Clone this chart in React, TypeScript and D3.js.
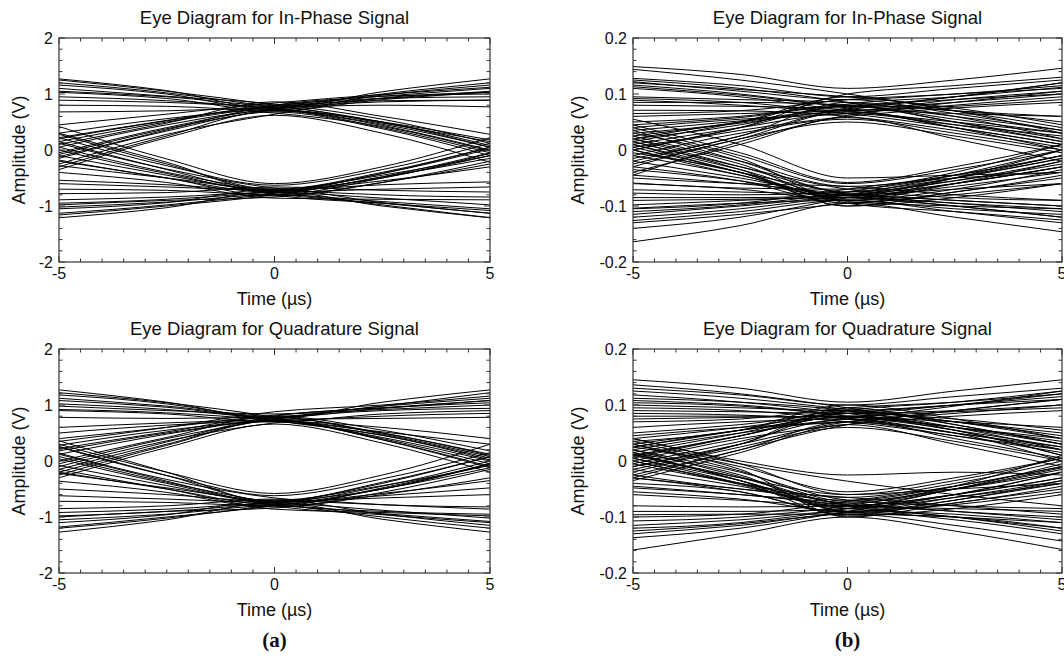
import React from 'react';
import * as d3 from 'd3';

// Sample instants (µs) at which each eye trace is recorded
const sampleTimes = [-5, -2.5, 0, 2.5, 5];
const xTickValues = [-5, 0, 5];
const yTicksLow = [-2, -1, 0, 1, 2];
const yTicksHigh = [-0.2, -0.1, 0, 0.1, 0.2];

// (a) in-phase traces, one row per symbol window
const inPhaseA: number[][] = [
  [1.27, 1.06, 0.74, 1.04, 1.27],
  [1.25, 1.05, 0.8, 0.5, 0.05],
  [1.16, 1.0, 0.72, 0.98, 1.16],
  [1.1, 0.96, 0.82, 0.55, 0.12],
  [1.03, 0.92, 0.7, 0.9, 1.03],
  [0.89, 0.85, 0.78, 0.86, 0.89],
  [0.8, 0.78, 0.66, 0.42, -0.02],
  [0.68, 0.7, 0.76, 0.8, 0.77],
  [0.45, 0.64, 0.84, 0.99, 1.12],
  [0.3, 0.56, 0.72, 0.5, 0.18],
  [0.15, 0.5, 0.78, 0.96, 1.0],
  [0.05, 0.45, 0.7, 0.46, 0.05],
  [-0.05, 0.4, 0.75, 0.88, 0.89],
  [-0.15, 0.34, 0.68, 0.38, -0.1],
  [-0.25, 0.28, 0.64, 0.93, 1.03],
  [-0.35, 0.22, 0.62, 0.3, -0.22],
  [0.1, 0.48, 0.86, 0.6, 0.28],
  [-0.08, 0.38, 0.73, 1.0, 1.2],
  [1.2, 1.02, 0.76, 0.44, 0.0],
  [0.22, 0.53, 0.8, 0.92, 0.95],
  [1.05, 0.95, 0.8, 0.92, 1.05],
  [-0.3, 0.25, 0.7, 0.4, -0.05],
  [0.2, 0.52, 0.76, 0.48, 0.15],
  [0.95, 0.88, 0.74, 0.5, 0.08],
  [-0.12, 0.36, 0.8, 0.96, 1.1],
  [-1.21, -1.03, -0.74, -1.0, -1.21],
  [-1.16, -1.0, -0.8, -0.48, -0.05],
  [-1.05, -0.94, -0.7, -0.94, -1.13],
  [-0.98, -0.9, -0.84, -0.58, -0.2],
  [-0.89, -0.84, -0.76, -0.86, -0.98],
  [-0.78, -0.76, -0.66, -0.72, -0.75],
  [-0.7, -0.72, -0.8, -0.5, -0.1],
  [-0.54, -0.62, -0.72, -0.62, -0.57],
  [-0.4, -0.58, -0.86, -0.88, -0.89],
  [-0.28, -0.5, -0.7, -0.45, -0.1],
  [-0.1, -0.45, -0.78, -0.95, -1.13],
  [0.0, -0.42, -0.73, -0.42, 0.02],
  [0.12, -0.34, -0.68, -0.8, -0.84],
  [0.22, -0.28, -0.63, -0.35, 0.12],
  [0.3, -0.22, -0.75, -0.7, -0.66],
  [0.42, -0.16, -0.6, -0.3, 0.22],
  [-0.2, -0.5, -0.82, -0.58, -0.25],
  [0.05, -0.4, -0.74, -0.98, -1.21],
  [-1.13, -0.98, -0.77, -0.42, 0.05],
  [-0.6, -0.66, -0.72, -0.55, -0.3],
  [-1.02, -0.93, -0.8, -0.92, -1.05],
  [0.28, -0.25, -0.7, -0.4, 0.05],
  [-0.18, -0.5, -0.76, -0.48, -0.15],
  [-0.95, -0.88, -0.74, -0.5, -0.06],
  [0.15, -0.35, -0.8, -0.95, -1.08],
];

// (a) quadrature traces
const quadratureA: number[][] = [
  [1.27, 1.05, 0.76, 1.05, 1.27],
  [1.18, 1.02, 0.72, 0.46, 0.02],
  [1.12, 0.98, 0.8, 0.98, 1.12],
  [1.02, 0.92, 0.74, 0.5, 0.1],
  [0.98, 0.9, 0.84, 0.92, 1.0],
  [0.9, 0.84, 0.7, 0.84, 0.9],
  [0.78, 0.76, 0.78, 0.48, 0.08],
  [0.6, 0.68, 0.74, 0.76, 0.78],
  [0.4, 0.6, 0.82, 0.95, 1.04],
  [0.28, 0.55, 0.7, 0.42, 0.0],
  [0.12, 0.48, 0.76, 0.9, 0.94],
  [0.0, 0.42, 0.8, 0.55, 0.18],
  [-0.1, 0.36, 0.68, 0.8, 0.85],
  [-0.2, 0.3, 0.73, 0.4, -0.05],
  [-0.3, 0.24, 0.66, 0.32, -0.2],
  [0.35, 0.6, 0.88, 1.0, 1.16],
  [0.18, 0.5, 0.72, 0.52, 0.3],
  [-0.05, 0.4, 0.75, 0.98, 1.22],
  [1.22, 1.04, 0.78, 0.38, -0.12],
  [0.5, 0.64, 0.71, 0.6, 0.4],
  [1.08, 0.96, 0.78, 0.94, 1.08],
  [-0.25, 0.28, 0.72, 0.38, -0.1],
  [0.22, 0.52, 0.78, 0.5, 0.12],
  [0.92, 0.86, 0.72, 0.46, 0.05],
  [-0.15, 0.34, 0.8, 0.95, 1.08],
  [-1.27, -1.05, -0.74, -1.04, -1.27],
  [-1.18, -1.0, -0.8, -0.5, -0.06],
  [-1.1, -0.96, -0.7, -0.95, -1.15],
  [-1.0, -0.9, -0.84, -0.56, -0.15],
  [-0.92, -0.86, -0.76, -0.88, -1.02],
  [-0.85, -0.8, -0.68, -0.78, -0.86],
  [-0.72, -0.74, -0.8, -0.48, -0.05],
  [-0.5, -0.6, -0.72, -0.66, -0.6],
  [-0.36, -0.56, -0.86, -0.92, -0.98],
  [-0.22, -0.48, -0.7, -0.44, -0.08],
  [-0.08, -0.44, -0.78, -0.9, -0.95],
  [0.04, -0.4, -0.73, -0.45, 0.0],
  [0.14, -0.33, -0.66, -0.78, -0.82],
  [0.25, -0.26, -0.62, -0.32, 0.15],
  [0.36, -0.2, -0.74, -0.62, -0.48],
  [0.3, -0.2, -0.58, -0.25, 0.3],
  [-0.15, -0.5, -0.82, -0.6, -0.3],
  [0.08, -0.38, -0.75, -1.0, -1.2],
  [-1.2, -1.02, -0.77, -0.4, 0.08],
  [-0.62, -0.68, -0.74, -0.58, -0.35],
  [-1.05, -0.95, -0.8, -0.94, -1.08],
  [0.26, -0.26, -0.72, -0.38, 0.08],
  [-0.2, -0.5, -0.78, -0.5, -0.12],
  [-0.98, -0.9, -0.74, -0.5, -0.04],
  [0.12, -0.36, -0.8, -0.96, -1.1],
];

// (b) in-phase traces
const inPhaseB: number[][] = [
  [0.149, 0.135, 0.11, 0.125, 0.146],
  [0.144, 0.125, 0.1, 0.07, 0.03],
  [0.128, 0.115, 0.095, 0.11, 0.125],
  [0.125, 0.11, 0.085, 0.05, 0.015],
  [0.122, 0.105, 0.09, 0.1, 0.11],
  [0.116, 0.1, 0.075, 0.04, 0.0],
  [0.113, 0.098, 0.08, 0.095, 0.12],
  [0.095, 0.09, 0.085, 0.06, 0.02],
  [0.092, 0.085, 0.07, 0.09, 0.105],
  [0.089, 0.08, 0.065, 0.04, 0.01],
  [0.08, 0.078, 0.075, 0.085, 0.1],
  [0.071, 0.07, 0.06, 0.035, 0.005],
  [0.06, 0.065, 0.07, 0.078, 0.09],
  [0.045, 0.058, 0.078, 0.05, 0.02],
  [0.035, 0.052, 0.072, 0.065, 0.06],
  [0.025, 0.048, 0.068, 0.04, 0.01],
  [0.02, 0.045, 0.082, 0.095, 0.112],
  [0.01, 0.04, 0.065, 0.045, 0.025],
  [0.0, 0.035, 0.06, 0.075, 0.085],
  [-0.01, 0.03, 0.055, 0.03, 0.0],
  [-0.02, 0.025, 0.075, 0.09, 0.1],
  [-0.03, 0.02, 0.05, 0.025, -0.005],
  [-0.045, 0.015, 0.062, 0.08, 0.095],
  [0.03, 0.05, 0.09, 0.065, 0.035],
  [0.005, 0.04, 0.1, 0.115, 0.13],
  [0.05, 0.06, 0.08, 0.07, 0.05],
  [0.015, 0.05, 0.095, 0.07, 0.04],
  [-0.025, 0.02, 0.068, 0.045, 0.015],
  [0.04, 0.055, 0.065, 0.085, 0.105],
  [0.11, 0.095, 0.07, 0.05, 0.03],
  [0.065, 0.07, 0.09, 0.1, 0.115],
  [-0.04, 0.01, 0.058, 0.02, -0.02],
  [0.0, 0.04, 0.078, 0.055, 0.03],
  [0.12, 0.108, 0.095, 0.075, 0.045],
  [0.085, 0.085, 0.08, 0.06, 0.035],
  [0.02, 0.05, 0.072, 0.095, 0.12],
  [-0.015, 0.025, 0.085, 0.07, 0.06],
  [-0.164, -0.135, -0.095, -0.12, -0.146],
  [-0.14, -0.12, -0.085, -0.05, -0.01],
  [-0.126, -0.11, -0.09, -0.11, -0.13],
  [-0.12, -0.105, -0.08, -0.045, 0.0],
  [-0.115, -0.1, -0.085, -0.1, -0.12],
  [-0.11, -0.098, -0.075, -0.04, 0.01],
  [-0.104, -0.095, -0.09, -0.105, -0.115],
  [-0.098, -0.09, -0.08, -0.055, -0.02],
  [-0.09, -0.088, -0.085, -0.095, -0.105],
  [-0.077, -0.08, -0.075, -0.05, -0.015],
  [-0.071, -0.075, -0.08, -0.09, -0.1],
  [-0.059, -0.068, -0.07, -0.045, -0.01],
  [-0.05, -0.06, -0.065, -0.08, -0.09],
  [-0.035, -0.055, -0.085, -0.06, -0.03],
  [-0.02, -0.05, -0.08, -0.07, -0.06],
  [-0.01, -0.045, -0.088, -0.05, 0.0],
  [0.0, -0.04, -0.078, -0.095, -0.11],
  [0.01, -0.035, -0.082, -0.06, -0.03],
  [0.015, -0.03, -0.07, -0.085, -0.09],
  [0.02, -0.025, -0.09, -0.06, -0.02],
  [0.025, -0.02, -0.065, -0.05, -0.04],
  [0.03, -0.015, -0.095, -0.11, -0.125],
  [0.04, -0.01, -0.06, -0.035, 0.0],
  [0.055, 0.01, -0.05, -0.045, -0.04],
  [-0.005, -0.04, -0.1, -0.075, -0.05],
  [0.01, -0.04, -0.085, -0.065, -0.04],
  [0.02, -0.03, -0.08, -0.1, -0.12],
  [-0.06, -0.07, -0.09, -0.07, -0.035],
  [0.035, -0.02, -0.075, -0.055, -0.025],
  [-0.085, -0.085, -0.08, -0.06, -0.03],
  [-0.03, -0.055, -0.095, -0.075, -0.045],
  [0.005, -0.04, -0.092, -0.1, -0.105],
  [-0.105, -0.095, -0.07, -0.045, -0.01],
  [0.045, -0.005, -0.058, -0.03, 0.01],
  [-0.045, -0.06, -0.078, -0.09, -0.1],
  [0.015, -0.035, -0.1, -0.085, -0.06],
  [-0.13, -0.115, -0.095, -0.08, -0.06],
  [0.0, -0.045, -0.082, -0.05, -0.015],
];

// (b) quadrature traces
const quadratureB: number[][] = [
  [0.145, 0.13, 0.105, 0.125, 0.145],
  [0.136, 0.12, 0.095, 0.065, 0.03],
  [0.13, 0.118, 0.1, 0.115, 0.13],
  [0.112, 0.105, 0.09, 0.06, 0.02],
  [0.108, 0.1, 0.085, 0.1, 0.115],
  [0.104, 0.098, 0.08, 0.055, 0.01],
  [0.1, 0.095, 0.09, 0.1, 0.11],
  [0.095, 0.09, 0.075, 0.05, 0.0],
  [0.09, 0.088, 0.085, 0.09, 0.1],
  [0.085, 0.082, 0.07, 0.045, 0.015],
  [0.075, 0.078, 0.08, 0.088, 0.095],
  [0.06, 0.07, 0.075, 0.04, 0.005],
  [0.04, 0.06, 0.085, 0.1, 0.12],
  [0.03, 0.055, 0.078, 0.07, 0.06],
  [0.02, 0.05, 0.07, 0.045, 0.02],
  [0.015, 0.05, 0.09, 0.105, 0.125],
  [0.01, 0.045, 0.08, 0.06, 0.04],
  [0.0, 0.04, 0.065, 0.08, 0.09],
  [-0.005, 0.035, 0.075, 0.05, 0.025],
  [-0.01, 0.03, 0.07, 0.085, 0.1],
  [-0.015, 0.03, 0.095, 0.065, 0.03],
  [-0.02, 0.025, 0.06, 0.035, 0.0],
  [0.035, 0.055, 0.1, 0.075, 0.04],
  [-0.03, 0.02, 0.065, 0.09, 0.11],
  [0.005, 0.045, 0.085, 0.055, 0.01],
  [0.05, 0.065, 0.085, 0.075, 0.055],
  [0.025, 0.055, 0.09, 0.07, 0.045],
  [-0.025, 0.02, 0.07, 0.05, 0.02],
  [0.045, 0.06, 0.07, 0.09, 0.11],
  [0.118, 0.105, 0.085, 0.06, 0.03],
  [0.07, 0.075, 0.095, 0.105, 0.12],
  [-0.035, 0.015, 0.065, 0.03, -0.01],
  [0.008, 0.045, 0.08, 0.055, 0.025],
  [0.125, 0.112, 0.092, 0.07, 0.04],
  [0.08, 0.08, 0.078, 0.06, 0.035],
  [0.025, 0.055, 0.075, 0.098, 0.125],
  [-0.01, 0.03, 0.088, 0.07, 0.05],
  [-0.159, -0.13, -0.1, -0.125, -0.158],
  [-0.137, -0.12, -0.09, -0.06, -0.02],
  [-0.13, -0.115, -0.095, -0.115, -0.143],
  [-0.12, -0.11, -0.085, -0.05, -0.005],
  [-0.115, -0.105, -0.09, -0.105, -0.13],
  [-0.107, -0.1, -0.08, -0.045, 0.01],
  [-0.096, -0.095, -0.095, -0.1, -0.12],
  [-0.09, -0.09, -0.085, -0.06, -0.02],
  [-0.048, -0.06, -0.075, -0.09, -0.1],
  [-0.03, -0.05, -0.07, -0.045, -0.01],
  [-0.015, -0.045, -0.08, -0.085, -0.09],
  [-0.005, -0.04, -0.065, -0.04, 0.0],
  [0.005, -0.035, -0.085, -0.095, -0.11],
  [0.01, -0.03, -0.06, -0.05, -0.04],
  [0.015, -0.025, -0.09, -0.065, -0.035],
  [0.02, -0.02, -0.07, -0.08, -0.085],
  [0.025, -0.015, -0.1, -0.075, -0.05],
  [0.03, -0.01, -0.055, -0.03, 0.005],
  [0.04, 0.0, -0.025, -0.02, -0.025],
  [0.035, -0.005, -0.036, -0.06, -0.08],
  [-0.04, -0.055, -0.095, -0.07, -0.04],
  [0.0, -0.04, -0.078, -0.1, -0.12],
  [-0.06, -0.07, -0.08, -0.06, -0.03],
  [0.012, -0.03, -0.075, -0.05, -0.015],
  [-0.025, -0.05, -0.065, -0.08, -0.095],
  [0.015, -0.035, -0.085, -0.065, -0.04],
  [0.02, -0.028, -0.08, -0.1, -0.125],
  [-0.055, -0.068, -0.09, -0.07, -0.035],
  [0.03, -0.018, -0.072, -0.05, -0.02],
  [-0.08, -0.082, -0.08, -0.06, -0.03],
  [-0.03, -0.055, -0.092, -0.075, -0.045],
  [0.005, -0.04, -0.09, -0.1, -0.11],
  [-0.1, -0.095, -0.072, -0.045, -0.01],
  [0.04, -0.005, -0.06, -0.035, 0.005],
  [-0.045, -0.06, -0.078, -0.09, -0.105],
  [0.012, -0.035, -0.098, -0.085, -0.06],
  [-0.125, -0.112, -0.092, -0.078, -0.055],
  [0.0, -0.042, -0.082, -0.05, -0.012],
];

const titleInPhase = 'Eye Diagram for In-Phase Signal';
const titleQuadrature = 'Eye Diagram for Quadrature Signal';
const xAxisLabel = 'Time (µs)';
const yAxisLabel = 'Amplitude (V)';
const columnTags = ['(a)', '(b)'];

const SANS = '"Liberation Sans", Arial, Helvetica, sans-serif';
const SERIF = '"Liberation Serif", "Times New Roman", serif';

type PanelSpec = {
  key: string;
  left: number;
  right: number;
  top: number;
  bottom: number;
  yDomain: [number, number];
  yTicks: number[];
  yMinorStep: number;
  traces: number[][];
  title: string;
  yLabelGap: number;
  fmt: (v: number) => string;
};

const colLeft = { left: 59, right: 490, yLabelGap: 40 };
const colRight = { left: 633, right: 1062, yLabelGap: 55 };
const rowTop = { top: 38, bottom: 262 };
const rowBottom = { top: 349, bottom: 573 };

const fmtLow = (v: number) => String(v);
const fmtHigh = (v: number) => (v === 0 ? '0' : d3.format('.1f')(v).replace('−', '-'));

const panels: PanelSpec[] = [
  { key: 'ia', ...colLeft, ...rowTop, yDomain: [-2, 2], yTicks: yTicksLow, yMinorStep: 0.2, traces: inPhaseA, title: titleInPhase, fmt: fmtLow },
  { key: 'qa', ...colLeft, ...rowBottom, yDomain: [-2, 2], yTicks: yTicksLow, yMinorStep: 0.2, traces: quadratureA, title: titleQuadrature, fmt: fmtLow },
  { key: 'ib', ...colRight, ...rowTop, yDomain: [-0.2, 0.2], yTicks: yTicksHigh, yMinorStep: 0.02, traces: inPhaseB, title: titleInPhase, fmt: fmtHigh },
  { key: 'qb', ...colRight, ...rowBottom, yDomain: [-0.2, 0.2], yTicks: yTicksHigh, yMinorStep: 0.02, traces: quadratureB, title: titleQuadrature, fmt: fmtHigh },
];

function Panel({ p }: { p: PanelSpec }) {
  const x = d3.scaleLinear().domain([-5, 5]).range([p.left, p.right]);
  const y = d3.scaleLinear().domain(p.yDomain).range([p.bottom, p.top]);
  const line = d3
    .line<number>()
    .x((_, i) => x(sampleTimes[i]))
    .y((d) => y(d))
    .curve(d3.curveMonotoneX);

  const xMinor = d3.range(-5, 5.0001, 0.5);
  const yMinor = d3.range(p.yDomain[0], p.yDomain[1] + p.yMinorStep / 2, p.yMinorStep);
  const cx = (p.left + p.right) / 2;
  const cy = (p.top + p.bottom) / 2;
  const clipId = `clip-${p.key}`;
  const tickColor = '#333';

  return (
    <g>
      <defs>
        <clipPath id={clipId}>
          <rect x={p.left} y={p.top} width={p.right - p.left} height={p.bottom - p.top} />
        </clipPath>
      </defs>
      <g clipPath={`url(#${clipId})`} fill="none" stroke="#000" strokeWidth={1}>
        {p.traces.map((tr, i) => (
          <path key={i} d={line(tr) || ''} />
        ))}
      </g>
      {/* ticks along the four sides, pointing inward */}
      <g stroke={tickColor} strokeWidth={1}>
        {xMinor.map((t, i) => {
          const major = xTickValues.some((v) => Math.abs(v - t) < 1e-6);
          const len = major ? 6 : 3.5;
          const px = x(t);
          return (
            <g key={`x${i}`}>
              <line x1={px} x2={px} y1={p.bottom} y2={p.bottom - len} />
              <line x1={px} x2={px} y1={p.top} y2={p.top + len} />
            </g>
          );
        })}
        {yMinor.map((v, i) => {
          const major = p.yTicks.some((t) => Math.abs(t - v) < p.yMinorStep / 10);
          const len = major ? 6 : 3.5;
          const py = y(v);
          return (
            <g key={`y${i}`}>
              <line x1={p.left} x2={p.left + len} y1={py} y2={py} />
              <line x1={p.right} x2={p.right - len} y1={py} y2={py} />
            </g>
          );
        })}
      </g>
      <rect
        x={p.left}
        y={p.top}
        width={p.right - p.left}
        height={p.bottom - p.top}
        fill="none"
        stroke="#333"
        strokeWidth={1.2}
      />
      <g fontFamily={SANS} fill="#111">
        <text x={cx} y={p.top - 14} textAnchor="middle" fontSize={18.5}>
          {p.title}
        </text>
        {xTickValues.map((t) => (
          <text key={`xl${t}`} x={x(t)} y={p.bottom + 17} textAnchor="middle" fontSize={16}>
            {String(t)}
          </text>
        ))}
        {p.yTicks.map((v) => (
          <text key={`yl${v}`} x={p.left - 6} y={y(v)} dy="0.36em" textAnchor="end" fontSize={16}>
            {p.fmt(v)}
          </text>
        ))}
        <text x={cx} y={p.bottom + 43} textAnchor="middle" fontSize={18}>
          {xAxisLabel}
        </text>
        <text
          transform={`translate(${p.left - p.yLabelGap},${cy}) rotate(-90)`}
          textAnchor="middle"
          dy="0.35em"
          fontSize={18}
        >
          {yAxisLabel}
        </text>
      </g>
    </g>
  );
}

export default function App() {
  const width = 1064;
  const height = 656;
  const tagCenters = [(colLeft.left + colLeft.right) / 2, (colRight.left + colRight.right) / 2];
  return (
    <svg
      width={width}
      height={height}
      style={{ position: 'absolute', left: 0, top: 0, background: '#fff' }}
    >
      <rect width={width} height={height} fill="#fff" />
      {panels.map((p) => (
        <Panel key={p.key} p={p} />
      ))}
      {columnTags.map((tag, i) => (
        <text
          key={tag}
          x={tagCenters[i]}
          y={647}
          textAnchor="middle"
          fontFamily={SERIF}
          fontWeight="bold"
          fontSize={21}
          fill="#111"
        >
          {tag}
        </text>
      ))}
    </svg>
  );
}
